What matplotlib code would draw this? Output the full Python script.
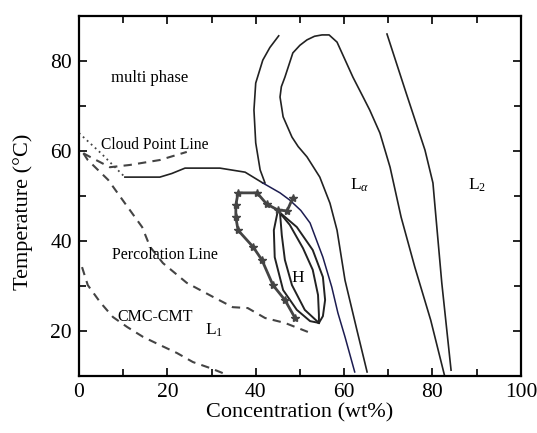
import numpy as np
import matplotlib
matplotlib.use('Agg')
import matplotlib.pyplot as plt
from matplotlib.ticker import MultipleLocator

plt.rcParams['font.family'] = ['Liberation Serif', 'DejaVu Serif']
plt.rcParams['mathtext.fontset'] = 'custom'
plt.rcParams['mathtext.rm'] = 'Liberation Serif'
plt.rcParams['mathtext.it'] = 'Liberation Serif:italic'

# phase boundaries (wt%, degC)
l2_x = [69.7, 74.0, 78.3, 80.1, 80.5, 82.1, 84.2]
l2_y = [86.0, 73.0, 60.2, 52.9, 48.4, 30.7, 11.3]

loop_x = [65.2, 62.9, 60.2, 58.4, 56.8, 54.5, 51.6, 49.6, 48.2, 46.2, 45.5, 45.8, 46.6, 48.4,
          50.0, 51.6, 53.3, 55.0, 56.6, 58.4, 60.2, 62.0, 64.3, 65.8, 68.1, 70.4, 72.9, 76.0, 79.6, 82.8]
loop_y = [10.9, 20.2, 31.3, 42.4, 48.4, 54.2, 58.7, 61.0, 63.1, 67.6, 72.0, 74.3, 76.4, 81.8,
          83.5, 84.7, 85.5, 85.8, 85.8, 84.2, 80.3, 76.4, 72.0, 69.1, 64.0, 56.4, 45.3, 34.2, 22.4, 9.8]

arm_x = [45.2, 43.2, 41.6, 40.0, 39.6, 40.0, 41.0, 42.1]
arm_y = [85.6, 83.0, 80.2, 75.1, 69.1, 61.8, 55.8, 52.9]

multi_x = [10.4, 18.3, 21.0, 24.0, 31.9, 37.6, 41.6, 45.5, 47.7, 50.2, 52.3, 55.2, 57.2, 58.6, 60.2, 62.4]
multi_y = [54.2, 54.2, 55.0, 56.2, 56.2, 55.3, 52.9, 50.7, 49.1, 46.8, 44.0, 36.4, 29.8, 24.0, 18.7, 10.9]

star_x = [48.4, 47.1, 45.0, 42.5, 40.3, 36.0, 35.5, 35.5, 36.0, 39.4, 41.4, 43.9, 46.6, 48.9]
star_y = [49.6, 46.7, 46.9, 48.2, 50.7, 50.7, 48.0, 45.3, 42.4, 38.7, 35.8, 30.2, 26.9, 22.9]

h_out_x = [54.3, 52.3, 49.3, 46.2, 44.3, 44.1, 45.0, 49.3, 52.9, 55.2, 55.7, 55.2, 54.3]
h_out_y = [21.8, 22.2, 24.7, 29.1, 36.4, 42.4, 46.7, 43.1, 38.0, 32.0, 26.9, 23.3, 21.8]
h_in_x = [54.3, 51.1, 48.2, 46.6, 45.9, 45.5, 47.7, 50.7, 52.9, 54.1, 54.3, 54.3]
h_in_y = [21.8, 24.7, 30.2, 35.8, 41.3, 46.2, 43.6, 38.4, 33.6, 28.0, 23.6, 21.8]

cloud_dot_x = [0.0, 5.0, 10.4]
cloud_dot_y = [64.0, 59.5, 54.2]
cloud_x = [1.0, 2.5, 7.0, 11.5, 18.3, 24.4]
cloud_y = [59.5, 58.7, 56.4, 56.9, 58.0, 59.8]

perc_x = [1.0, 2.0, 6.6, 10.4, 14.3, 16.1, 19.0, 24.4, 30.3, 34.8, 38.2, 42.1, 46.6, 51.8]
perc_y = [59.5, 58.0, 53.6, 48.4, 43.1, 38.7, 35.1, 30.7, 27.6, 25.3, 25.1, 22.9, 21.8, 19.8]

cmc_x = [0.7, 2.0, 4.8, 7.7, 10.9, 14.5, 18.3, 22.2, 25.8, 29.6, 33.7]
cmc_y = [34.2, 30.2, 26.4, 23.1, 20.9, 18.7, 16.9, 15.1, 13.1, 11.8, 10.2]

fig = plt.figure(figsize=(5.37, 4.33), dpi=100)
ax = fig.add_axes([0.147, 0.1316, 0.823, 0.8314])

solid = dict(color='#222222', lw=1.2)
ax.plot(l2_x, l2_y, **solid)
ax.plot(loop_x, loop_y, **solid)
ax.plot(arm_x, arm_y, **solid)
ax.plot(multi_x[:7], multi_y[:7], **solid)
ax.plot(multi_x[6:], multi_y[6:], color='#1c1c50', lw=1.1)
ax.plot(h_out_x, h_out_y, color='#222222', lw=1.4)
ax.plot(h_in_x, h_in_y, color='#222222', lw=1.4)
ax.plot(star_x, star_y, color='#444444', lw=2, marker='*', ms=6)

dash = dict(color='#444444', lw=1.5, ls=(0, (4, 3)))
ax.plot(cloud_x, cloud_y, **dash)
ax.plot(perc_x, perc_y, **dash)
ax.plot(cmc_x, cmc_y, **dash)
ax.plot(cloud_dot_x, cloud_dot_y, color='#444444', lw=1.3, ls=(0, (1, 2)))

fs = 11.5
ax.text(16.1, 76.2, 'multi phase', fontsize=12, ha='center', va='center')
ax.text(5.0, 61.3, 'Cloud Point Line', fontsize=11.2, va='center')
ax.text(7.5, 36.9, 'Percolation Line', fontsize=fs, va='center')
ax.text(8.6, 23.1, 'CMC-CMT', fontsize=fs, va='center')
ax.text(30.5, 20.2, r'L$_1$', fontsize=fs + 1, ha='center', va='center')
ax.text(49.5, 31.8, 'H', fontsize=fs + 1, ha='center', va='center')
ax.text(63.6, 52.4, r'L$_\alpha$', fontsize=fs + 1, ha='center', va='center')
ax.text(90.0, 52.4, r'L$_2$', fontsize=fs + 1, ha='center', va='center')

ax.set_xlim(0, 100)
ax.set_ylim(10, 90)
ax.xaxis.set_major_locator(MultipleLocator(20))
ax.xaxis.set_minor_locator(MultipleLocator(10))
ax.yaxis.set_major_locator(MultipleLocator(20))
ax.yaxis.set_minor_locator(MultipleLocator(10))
ax.tick_params(which='both', direction='in', top=True, right=True, labelsize=15.5, width=1.2)
ax.tick_params(which='major', length=6, pad=5)
ax.tick_params(which='minor', length=5)
for s in ax.spines.values():
    s.set_linewidth(1.6)

ax.set_xlabel('Concentration (wt%)', fontsize=16)
ax.set_ylabel('Temperature (°C)', fontsize=16)
ax.yaxis.set_label_coords(-0.104, 0.455)
ax.xaxis.set_label_coords(0.5, -0.075)

fig.savefig('out.png', dpi=100)
